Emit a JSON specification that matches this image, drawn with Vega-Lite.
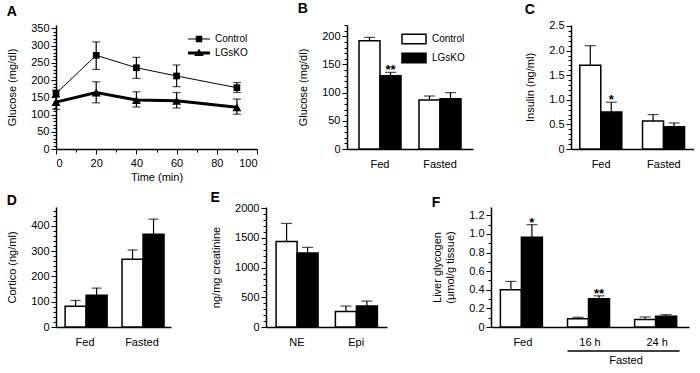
{
  "$schema": "https://vega.github.io/schema/vega-lite/v6.json",
  "background": "white",
  "padding": {"left": 6, "top": 2, "right": 0, "bottom": 0},
  "config": {
    "font": "Liberation Sans",
    "view": {"stroke": null},
    "axis": {"domainColor": "black", "domainWidth": 1.5, "tickColor": "black", "tickWidth": 1, "labelColor": "black", "labelFontSize": 11, "titleFontSize": 11, "titleFontWeight": "normal", "titleColor": "black", "grid": false, "labelFont": "Liberation Sans", "titleFont": "Liberation Sans", "labelPadding": 2, "labelOverlap": false},
    "axisX": {"labelAngle": 0},
    "axisY": {"titlePadding": 13},
    "title": {"fontSize": 14, "fontWeight": "bold", "anchor": "start", "frame": "bounds", "color": "black", "offset": 3, "font": "Liberation Sans"},
    "legend": {"labelFont": "Liberation Sans", "labelFontSize": 10, "labelColor": "black"},
    "text": {"font": "Liberation Sans"}
  },
  "datasets": {
    "a_mean": [
      {"time": 0, "group": "Control", "v": 161}, {"time": 20, "group": "Control", "v": 272}, {"time": 40, "group": "Control", "v": 236}, {"time": 60, "group": "Control", "v": 212}, {"time": 90, "group": "Control", "v": 178},
      {"time": 0, "group": "LGsKO", "v": 136}, {"time": 20, "group": "LGsKO", "v": 164}, {"time": 40, "group": "LGsKO", "v": 142}, {"time": 60, "group": "LGsKO", "v": 140}, {"time": 90, "group": "LGsKO", "v": 121}
    ],
    "a_err": [
      {"time": 0, "group": "Control", "v": 151, "hi": 171}, {"time": 20, "group": "Control", "v": 231, "hi": 311}, {"time": 40, "group": "Control", "v": 205, "hi": 266}, {"time": 60, "group": "Control", "v": 181, "hi": 244}, {"time": 90, "group": "Control", "v": 164, "hi": 193},
      {"time": 0, "group": "LGsKO", "v": 115, "hi": 152}, {"time": 20, "group": "LGsKO", "v": 134, "hi": 195}, {"time": 40, "group": "LGsKO", "v": 122, "hi": 166}, {"time": 60, "group": "LGsKO", "v": 119, "hi": 164}, {"time": 90, "group": "LGsKO", "v": 101, "hi": 145}
    ],
    "a_caps": [
      {"time": 0, "v": 151}, {"time": 0, "v": 171}, {"time": 20, "v": 231}, {"time": 20, "v": 311}, {"time": 40, "v": 205}, {"time": 40, "v": 266}, {"time": 60, "v": 181}, {"time": 60, "v": 244}, {"time": 90, "v": 164}, {"time": 90, "v": 193},
      {"time": 0, "v": 115}, {"time": 0, "v": 152}, {"time": 20, "v": 134}, {"time": 20, "v": 195}, {"time": 40, "v": 122}, {"time": 40, "v": 166}, {"time": 60, "v": 119}, {"time": 60, "v": 164}, {"time": 90, "v": 101}, {"time": 90, "v": 145}
    ],
    "b_bars": [
      {"cond": "Fed", "group": "Control", "v": 192, "hi": 198}, {"cond": "Fed", "group": "LGsKO", "v": 130, "hi": 136},
      {"cond": "Fasted", "group": "Control", "v": 87, "hi": 94}, {"cond": "Fasted", "group": "LGsKO", "v": 89, "hi": 100}
    ],
    "b_caps": [
      {"cond": "Fed", "group": "Control", "v": 198, "sig": ""}, {"cond": "Fed", "group": "LGsKO", "v": 136, "sig": "**"},
      {"cond": "Fasted", "group": "Control", "v": 94, "sig": ""}, {"cond": "Fasted", "group": "LGsKO", "v": 100, "sig": ""}
    ],
    "c_bars": [
      {"cond": "Fed", "group": "Control", "v": 1.70, "hi": 2.10}, {"cond": "Fed", "group": "LGsKO", "v": 0.75, "hi": 0.95},
      {"cond": "Fasted", "group": "Control", "v": 0.57, "hi": 0.70}, {"cond": "Fasted", "group": "LGsKO", "v": 0.45, "hi": 0.53}
    ],
    "c_caps": [
      {"cond": "Fed", "group": "Control", "v": 2.10, "sig": ""}, {"cond": "Fed", "group": "LGsKO", "v": 0.95, "sig": "*"},
      {"cond": "Fasted", "group": "Control", "v": 0.70, "sig": ""}, {"cond": "Fasted", "group": "LGsKO", "v": 0.53, "sig": ""}
    ],
    "d_bars": [
      {"cond": "Fed", "group": "Control", "v": 82, "hi": 105}, {"cond": "Fed", "group": "LGsKO", "v": 126, "hi": 154},
      {"cond": "Fasted", "group": "Control", "v": 268, "hi": 305}, {"cond": "Fasted", "group": "LGsKO", "v": 367, "hi": 427}
    ],
    "d_caps": [
      {"cond": "Fed", "group": "Control", "v": 105}, {"cond": "Fed", "group": "LGsKO", "v": 154},
      {"cond": "Fasted", "group": "Control", "v": 305}, {"cond": "Fasted", "group": "LGsKO", "v": 427}
    ],
    "e_bars": [
      {"cond": "NE", "group": "Control", "v": 1441, "hi": 1743}, {"cond": "NE", "group": "LGsKO", "v": 1246, "hi": 1341},
      {"cond": "Epi", "group": "Control", "v": 263, "hi": 352}, {"cond": "Epi", "group": "LGsKO", "v": 352, "hi": 436}
    ],
    "e_caps": [
      {"cond": "NE", "group": "Control", "v": 1743}, {"cond": "NE", "group": "LGsKO", "v": 1341},
      {"cond": "Epi", "group": "Control", "v": 352}, {"cond": "Epi", "group": "LGsKO", "v": 436}
    ],
    "f_bars": [
      {"cond": "Fed", "group": "Control", "v": 0.40, "hi": 0.49}, {"cond": "Fed", "group": "LGsKO", "v": 0.965, "hi": 1.10},
      {"cond": "16 h", "group": "Control", "v": 0.09, "hi": 0.105}, {"cond": "16 h", "group": "LGsKO", "v": 0.305, "hi": 0.335},
      {"cond": "24 h", "group": "Control", "v": 0.08, "hi": 0.108}, {"cond": "24 h", "group": "LGsKO", "v": 0.115, "hi": 0.133}
    ],
    "f_caps": [
      {"cond": "Fed", "group": "Control", "v": 0.49, "sig": ""}, {"cond": "Fed", "group": "LGsKO", "v": 1.10, "sig": "*"},
      {"cond": "16 h", "group": "Control", "v": 0.105, "sig": ""}, {"cond": "16 h", "group": "LGsKO", "v": 0.335, "sig": "**"},
      {"cond": "24 h", "group": "Control", "v": 0.108, "sig": ""}, {"cond": "24 h", "group": "LGsKO", "v": 0.133, "sig": ""}
    ],
    "f_note": [{"label": "Fasted", "from": "16 h", "to": "24 h", "v": 0}]
  },
  "spacing": 9,
  "resolve": {"scale": {"fill": "independent", "shape": "independent", "size": "independent", "strokeWidth": "independent"}},
  "vconcat": [
    {
      "bounds": "flush",
      "spacing": 291,
      "resolve": {"scale": {"fill": "independent", "shape": "independent", "size": "independent", "strokeWidth": "independent"}},
      "hconcat": [
        {
          "bounds": "flush",
          "resolve": {"scale": {"shape": "independent", "size": "independent", "strokeWidth": "independent"}},
          "hconcat": [
            {
              "width": 201,
              "height": 124,
              "title": {"text": "A"},
              "encoding": {
                "x": {"field": "time", "type": "quantitative", "scale": {"domain": [0, 100], "nice": false},
                  "axis": {"title": "Time (min)", "values": [0, 10, 20, 30, 40, 50, 60, 70, 80, 90, 100], "labelExpr": "datum.value % 20 === 0 ? datum.label : ''", "tickSize": {"condition": {"test": "datum.value % 20 === 0", "value": 5}, "value": 3}, "labelOverlap": false, "labelPadding": 3, "titlePadding": 3}},
                "y": {"field": "v", "type": "quantitative", "scale": {"domain": [0, 360], "nice": false},
                  "axis": {"title": "Glucose (mg/dl)", "values": [0,10,20,30,40,50,60,70,80,90,100,110,120,130,140,150,160,170,180,190,200,210,220,230,240,250,260,270,280,290,300,310,320,330,340,350], "labelExpr": "datum.value % 50 === 0 ? datum.label : ''", "tickSize": {"condition": {"test": "datum.value % 50 === 0", "value": 5}, "value": 3}, "labelOverlap": false}}
              },
              "layer": [
                {"data": {"name": "a_mean"},
                 "mark": {"type": "line", "color": "black"},
                 "encoding": {
                   "detail": {"field": "group"},
                   "strokeWidth": {"field": "group", "type": "nominal", "scale": {"domain": ["Control", "LGsKO"], "range": [1, 3]}, "legend": null}
                 }},
                {"data": {"name": "a_err"},
                 "mark": {"type": "rule", "color": "black", "strokeWidth": 1.2},
                 "encoding": {"y2": {"field": "hi"}}},
                {"data": {"name": "a_caps"},
                 "mark": {"type": "tick", "orient": "horizontal", "color": "black", "size": 8, "thickness": 1.2}},
                {"data": {"name": "a_mean"},
                 "mark": {"type": "point", "filled": true, "color": "black", "opacity": 1},
                 "encoding": {
                   "shape": {"field": "group", "type": "nominal", "scale": {"domain": ["Control", "LGsKO"], "range": ["square", "triangle-up"]}, "legend": null},
                   "size": {"field": "group", "type": "ordinal", "scale": {"domain": ["Control", "LGsKO"], "range": [45, 80]}, "legend": null}
                 }},
                {"data": {"name": "a_mean"},
                 "mark": {"type": "point", "filled": true, "color": "black", "opacity": 0},
                 "encoding": {
                   "shape": {"field": "group", "type": "nominal",
                     "scale": {"domain": ["Control", "LGsKO"], "range": ["M-2.2,-0.1H2.2V0.1H-2.2Z M-0.65,-0.65H0.65V0.65H-0.65Z", "M-2.2,-0.3H2.2V0.3H-2.2Z M0,-0.85L0.95,0.6H-0.95Z"]},
                     "legend": {"title": null, "orient": "top-right", "offset": 9, "symbolOpacity": 1, "symbolSize": 100, "symbolFillColor": "black", "symbolStrokeWidth": 0, "labelOffset": 11, "rowPadding": 4, "labelFontSize": 10}}
                 }}
              ],
              "resolve": {"scale": {"shape": "independent"}}
            }
          ]
        },
        {
          "bounds": "flush",
          "spacing": 98,
          "resolve": {"scale": {"fill": "independent"}},
          "hconcat": [
            {
              "width": 126,
              "height": 124,
              "title": {"text": "B"},
              "encoding": {
                "x": {"field": "cond", "type": "nominal", "scale": {"domain": ["Fed", "Fasted"], "paddingInner": 0.3, "paddingOuter": 0.2}, "axis": {"title": null, "ticks": false, "labelPadding": 9}},
                "xOffset": {"field": "group", "type": "nominal", "scale": {"domain": ["Control", "LGsKO"]}},
                "y": {"field": "v", "type": "quantitative", "scale": {"domain": [0, 220], "nice": false},
                  "axis": {"title": "Glucose (mg/dl)", "values": [0,10,20,30,40,50,60,70,80,90,100,110,120,130,140,150,160,170,180,190,200,210,220], "labelExpr": "datum.value % 50 === 0 ? datum.label : ''", "tickSize": {"condition": {"test": "datum.value % 50 === 0", "value": 5}, "value": 3}, "labelOverlap": false}}
              },
              "layer": [
                {"data": {"name": "b_bars"}, "mark": {"type": "rule", "color": "black", "strokeWidth": 1.2}, "encoding": {"y2": {"field": "hi"}}},
                {"data": {"name": "b_caps"}, "mark": {"type": "tick", "orient": "horizontal", "color": "black", "size": 11, "thickness": 1.2}},
                {"data": {"name": "b_bars"}, "mark": {"type": "bar", "stroke": "black", "strokeWidth": 1.5},
                 "encoding": {
                   "fill": {"field": "group", "type": "nominal", "scale": {"domain": ["Control", "LGsKO"], "range": ["white", "black"]},
                     "legend": {"title": null, "orient": "top-right", "offset": 8, "symbolType": "M-2.4,-0.95H2.4V0.95H-2.4Z", "symbolSize": 100, "symbolStrokeColor": "black", "symbolStrokeWidth": 1.5, "labelOffset": 12, "rowPadding": 3, "labelFontSize": 10}}
                 }},
                {"data": {"name": "b_caps"}, "mark": {"type": "text", "fontSize": 13, "fontWeight": "bold", "baseline": "alphabetic", "dy": 2}, "encoding": {"text": {"field": "sig"}}}
              ]
            },
            {
              "width": 123,
              "height": 124,
              "title": {"text": "C"},
              "encoding": {
                "x": {"field": "cond", "type": "nominal", "scale": {"domain": ["Fed", "Fasted"], "paddingInner": 0.32, "paddingOuter": 0.14}, "axis": {"title": null, "ticks": false, "labelPadding": 9}},
                "xOffset": {"field": "group", "type": "nominal", "scale": {"domain": ["Control", "LGsKO"]}},
                "y": {"field": "v", "type": "quantitative", "scale": {"domain": [0, 2.52], "nice": false},
                  "axis": {"title": "Insulin (ng/ml)", "values": [0,0.1,0.2,0.3,0.4,0.5,0.6,0.7,0.8,0.9,1,1.1,1.2,1.3,1.4,1.5,1.6,1.7,1.8,1.9,2,2.1,2.2,2.3,2.4,2.5], "labelExpr": "abs(datum.value*2 - round(datum.value*2)) < 0.001 ? (datum.value == 0 ? '0' : format(datum.value, '.1f')) : ''", "tickSize": {"condition": {"test": "abs(datum.value*2 - round(datum.value*2)) < 0.001", "value": 5}, "value": 3}, "labelOverlap": false}}
              },
              "layer": [
                {"data": {"name": "c_bars"}, "mark": {"type": "rule", "color": "black", "strokeWidth": 1.2}, "encoding": {"y2": {"field": "hi"}}},
                {"data": {"name": "c_caps"}, "mark": {"type": "tick", "orient": "horizontal", "color": "black", "size": 11, "thickness": 1.2}},
                {"data": {"name": "c_bars"}, "mark": {"type": "bar", "stroke": "black", "strokeWidth": 1.5},
                 "encoding": {"fill": {"field": "group", "type": "nominal", "scale": {"domain": ["Control", "LGsKO"], "range": ["white", "black"]}, "legend": null}}},
                {"data": {"name": "c_caps"}, "mark": {"type": "text", "fontSize": 13, "fontWeight": "bold", "baseline": "alphabetic", "dy": 2}, "encoding": {"text": {"field": "sig"}}}
              ]
            }
          ]
        }
      ]
    },
    {
      "bounds": "flush",
      "spacing": 95,
      "resolve": {"scale": {"fill": "independent"}},
      "hconcat": [
        {
          "width": 115,
          "height": 120,
          "title": {"text": "D", "offset": -3},
          "encoding": {
            "x": {"field": "cond", "type": "nominal", "scale": {"domain": ["Fed", "Fasted"], "paddingInner": 0.3, "paddingOuter": 0.16}, "axis": {"title": null, "ticks": false, "labelPadding": 9}},
            "xOffset": {"field": "group", "type": "nominal", "scale": {"domain": ["Control", "LGsKO"]}},
            "y": {"field": "v", "type": "quantitative", "scale": {"domain": [0, 475], "nice": false},
              "axis": {"title": "Cortico (ng/ml)", "values": [0,20,40,60,80,100,120,140,160,180,200,220,240,260,280,300,320,340,360,380,400,420,440,460], "labelExpr": "datum.value % 100 === 0 ? datum.label : ''", "tickSize": {"condition": {"test": "datum.value % 100 === 0", "value": 5}, "value": 3}, "labelOverlap": false}}
          },
          "layer": [
            {"data": {"name": "d_bars"}, "mark": {"type": "rule", "color": "black", "strokeWidth": 1.2}, "encoding": {"y2": {"field": "hi"}}},
            {"data": {"name": "d_caps"}, "mark": {"type": "tick", "orient": "horizontal", "color": "black", "size": 10, "thickness": 1.2}},
            {"data": {"name": "d_bars"}, "mark": {"type": "bar", "stroke": "black", "strokeWidth": 1.5},
             "encoding": {"fill": {"field": "group", "type": "nominal", "scale": {"domain": ["Control", "LGsKO"], "range": ["white", "black"]}, "legend": null}}}
          ]
        },
        {
          "bounds": "flush",
          "spacing": 104,
          "resolve": {"scale": {"fill": "independent"}},
          "hconcat": [
            {
              "width": 121,
              "height": 120,
              "title": {"text": "E", "offset": -3},
              "encoding": {
                "x": {"field": "cond", "type": "nominal", "scale": {"domain": ["NE", "Epi"], "paddingInner": 0.3, "paddingOuter": 0.17}, "axis": {"title": null, "ticks": false, "labelPadding": 9}},
                "xOffset": {"field": "group", "type": "nominal", "scale": {"domain": ["Control", "LGsKO"]}},
                "y": {"field": "v", "type": "quantitative", "scale": {"domain": [0, 2020], "nice": false},
                  "axis": {"title": "ng/mg creatinine", "values": [0,100,200,300,400,500,600,700,800,900,1000,1100,1200,1300,1400,1500,1600,1700,1800,1900,2000], "labelExpr": "datum.value % 500 === 0 ? format(datum.value, 'd') : ''", "tickSize": {"condition": {"test": "datum.value % 500 === 0", "value": 5}, "value": 3}, "labelOverlap": false}}
              },
              "layer": [
                {"data": {"name": "e_bars"}, "mark": {"type": "rule", "color": "black", "strokeWidth": 1.2}, "encoding": {"y2": {"field": "hi"}}},
                {"data": {"name": "e_caps"}, "mark": {"type": "tick", "orient": "horizontal", "color": "black", "size": 11, "thickness": 1.2}},
                {"data": {"name": "e_bars"}, "mark": {"type": "bar", "stroke": "black", "strokeWidth": 1.5},
                 "encoding": {"fill": {"field": "group", "type": "nominal", "scale": {"domain": ["Control", "LGsKO"], "range": ["white", "black"]}, "legend": null}}}
              ]
            },
            {
              "width": 198,
              "height": 120,
              "title": {"text": "F", "offset": -3},
              "encoding": {
                "x": {"field": "cond", "type": "nominal", "scale": {"domain": ["Fed", "16 h", "24 h"], "paddingInner": 0.33, "paddingOuter": 0.14}, "axis": {"title": null, "ticks": false, "labelPadding": 9}},
                "y": {"field": "v", "type": "quantitative", "scale": {"domain": [0, 1.29], "nice": false},
                  "axis": {"title": ["Liver glycogen", "(μmol/g tissue)"], "values": [0,0.1,0.2,0.3,0.4,0.5,0.6,0.7,0.8,0.9,1,1.1,1.2], "labelExpr": "abs(datum.value*5 - round(datum.value*5)) < 0.001 ? (datum.value == 0 ? '0' : format(datum.value, '.1f')) : ''", "tickSize": {"condition": {"test": "abs(datum.value*5 - round(datum.value*5)) < 0.001", "value": 5}, "value": 3}, "labelOverlap": false}}
              },
              "layer": [
                {"data": {"name": "f_bars"}, "mark": {"type": "rule", "color": "black", "strokeWidth": 1.2},
                 "encoding": {"xOffset": {"field": "group", "type": "nominal", "scale": {"domain": ["Control", "LGsKO"]}}, "y2": {"field": "hi"}}},
                {"data": {"name": "f_caps"}, "mark": {"type": "tick", "orient": "horizontal", "color": "black", "size": 11, "thickness": 1.2},
                 "encoding": {"xOffset": {"field": "group", "type": "nominal"}}},
                {"data": {"name": "f_bars"}, "mark": {"type": "bar", "stroke": "black", "strokeWidth": 1.5},
                 "encoding": {"xOffset": {"field": "group", "type": "nominal"},
                   "fill": {"field": "group", "type": "nominal", "scale": {"domain": ["Control", "LGsKO"], "range": ["white", "black"]}, "legend": null}}},
                {"data": {"name": "f_caps"}, "mark": {"type": "text", "fontSize": 13, "fontWeight": "bold", "baseline": "alphabetic", "dy": 2},
                 "encoding": {"xOffset": {"field": "group", "type": "nominal"}, "text": {"field": "sig"}}},
                {"data": {"name": "f_note"},
                 "mark": {"type": "rule", "color": "black", "strokeWidth": 1.5, "yOffset": 24},
                 "encoding": {
                   "x": {"field": "from", "type": "nominal", "bandPosition": 0},
                   "x2": {"field": "to", "bandPosition": 1}
                 }},
                {"data": {"name": "f_note"},
                 "mark": {"type": "text", "fontSize": 11, "baseline": "middle", "color": "black", "dy": 34},
                 "encoding": {
                   "x": {"field": "from", "type": "nominal", "bandPosition": 1.3},
                   "text": {"field": "label"}
                 }}
              ]
            }
          ]
        }
      ]
    }
  ]
}
